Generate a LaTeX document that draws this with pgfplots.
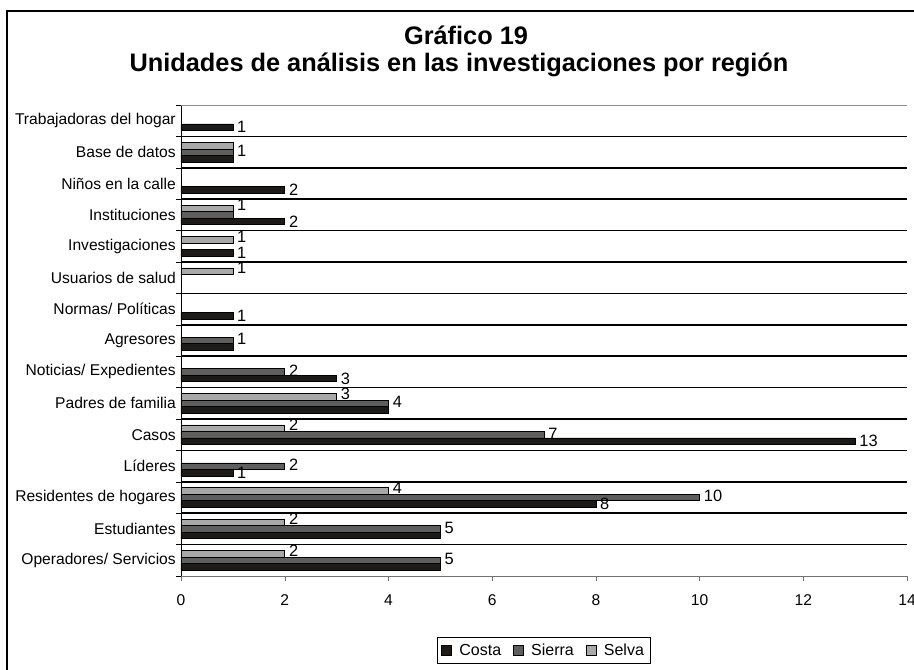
\documentclass[border=0pt]{standalone}
\usepackage{pgfplots}
\pgfplotsset{compat=1.18}
\usepackage{pgfplotstable}
\usepackage{fontspec}
\setmainfont{Liberation Sans}
\definecolor{costa}{HTML}{1E1A18}
\definecolor{sierra}{HTML}{5E5E5E}
\definecolor{selva}{HTML}{A8A8A8}
\newcommand\lf{\fontsize{11.7}{14}\selectfont}
\newcommand\df{\fontsize{12.3}{14}\selectfont}

% y: 0 = Operadores/ Servicios ... 14 = Trabajadoras del hogar
\pgfplotstableread{
y x lab
0 5 {}
1 5 {}
2 8 8
3 1 1
4 13 13
5 4 {}
6 3 3
7 1 {}
8 1 1
10 1 1
11 2 2
12 2 2
13 1 {}
14 1 1
}\costa
\pgfplotstableread{
y x lab
0 5 5
1 5 5
2 10 10
3 2 2
4 7 7
5 4 4
6 2 2
7 1 1
11 1 {}
13 1 1
}\sierra
\pgfplotstableread{
y x lab
0 2 2
1 2 2
2 4 4
4 2 2
5 3 3
9 1 1
10 1 1
11 1 1
13 1 {}
}\selva

\begin{document}
\begin{tikzpicture}
\useasboundingbox (0,0) rectangle (685.5pt,502.5pt);
\draw[line width=1.1pt] (5.25pt,-20pt) -- (5.25pt,494.25pt) -- (720pt,494.25pt);
\node[anchor=base,font=\fontsize{19}{21}\selectfont\bfseries] at (349.5pt,468.75pt) {Gráfico 19};
\node[anchor=base,font=\fontsize{19}{21}\selectfont\bfseries] at (344.25pt,448.5pt) {Unidades de análisis en las investigaciones por región};
\begin{axis}[
  at={(135.75pt,70.5pt)}, anchor=south west,
  scale only axis, width=544.5pt, height=353.25pt,
  xbar, bar width=4.875pt,
  xmin=0, xmax=14, ymin=-0.5, ymax=14.5,
  xtick={0,2,...,14},
  ytick={0,...,14},
  yticklabels={Operadores/ Servicios, Estudiantes, Residentes de hogares, Líderes, Casos\hspace{6.5pt}, Padres de familia, Noticias/ Expedientes, Agresores\hspace{4.5pt}, Normas/ Políticas, Usuarios de salud, Investigaciones, Instituciones, Niños en la calle, Base de datos, Trabajadoras del hogar},
  ytick style={draw=none},
  xtick style={black!55},
  tick align=outside,
  major tick length=3.75pt,
  axis x line*=bottom, axis y line*=left,
  x axis line style={black!55, -},
  y axis line style={black, -},
  /pgf/number format/assume math mode=true,
  tick label style={font=\lf},
  yticklabel style={inner sep=0pt},
  xticklabel style={yshift=-6.75pt},
  point meta=explicit symbolic,
  nodes near coords,
  every node near coord/.append style={font=\df, anchor=west, inner xsep=3pt, text=black},
  legend style={at={(0.5,-0.158)}, anchor=center, legend columns=-1, draw=black, line width=0.6pt,
    font=\fontsize{12}{14}\selectfont, inner xsep=3pt, inner ysep=3pt,
    /tikz/every odd column/.append style={column sep=3.5pt},
    /tikz/every even column/.append style={column sep=7pt}},
  legend image code/.code={\draw[#1,draw=black,line width=0.5pt] (0pt,-3.75pt) rectangle (7.5pt,3.75pt);},
  clip=false,
]
\addplot[fill=costa, draw=black, line width=0.5pt, bar shift=-4.875pt,
  every node near coord/.append style={yshift=0pt}] table[x=x,y=y,meta=lab] {\costa};
\addplot[fill=sierra, draw=black, line width=0.5pt, bar shift=0pt,
  every node near coord/.append style={yshift=1pt}] table[x=x,y=y,meta=lab] {\sierra};
\addplot[fill=selva, draw=black, line width=0.5pt, bar shift=4.875pt,
  every node near coord/.append style={yshift=2.5pt}] table[x=x,y=y,meta=lab] {\selva};
\legend{Costa, Sierra, Selva}
\pgfplotsinvokeforeach{0.5,1.5,...,13.5}{\draw[black,line width=1.1pt] (axis cs:0,#1) -- (axis cs:14,#1);}
\pgfplotsinvokeforeach{-0.5,0.5,...,14.5}{\draw[black] (axis cs:0,#1) -- ++(-3.75pt,0pt);}
\draw[black!45,line width=0.5pt] (axis cs:0,14.5) -- (axis cs:14,14.5);
\end{axis}
\end{tikzpicture}
\end{document}
